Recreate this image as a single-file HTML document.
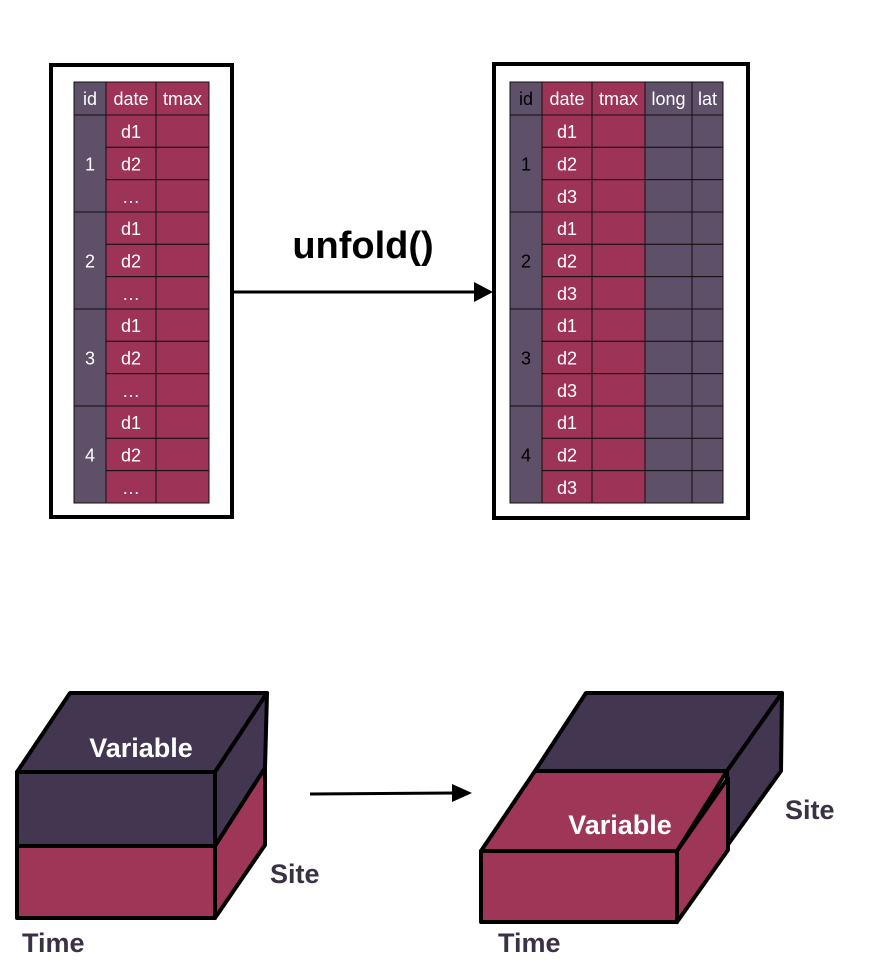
<!DOCTYPE html>
<html><head><meta charset="utf-8"><style>
body{margin:0;width:872px;height:969px;background:#fff;overflow:hidden;font-family:"Liberation Sans",sans-serif}
svg{position:absolute;left:0;top:0}
</style></head><body>
<svg width="872" height="969" viewBox="0 0 872 969">
<g id="tables"></g>
<g>
<line x1="232" y1="292" x2="476" y2="292" stroke="#000" stroke-width="3"/>
<polygon points="474,282 493,292 474,302" fill="#000"/>
</g>
<text x="363" y="258" text-anchor="middle" font-size="38" font-weight="bold">unfold()</text>

<g stroke="#000" stroke-width="4" stroke-linejoin="round">
<polygon points="17,772 70,693 267,693 215,772" fill="#433650"/>
<polygon points="215,772 267,693 265,768 215,846" fill="#433650"/>
<rect x="17" y="772" width="198" height="74" fill="#433650"/>
<polygon points="215,846 265,768 265,845 215,918" fill="#9e3658"/>
<rect x="17" y="846" width="198" height="72" fill="#9e3658"/>
</g>
<text x="141" y="757" text-anchor="middle" font-size="27" font-weight="bold" fill="#fff">Variable</text>
<text x="270" y="883" font-size="27" font-weight="bold" fill="#3a3145">Site</text>
<text x="22" y="952" font-size="27" font-weight="bold" fill="#3a3145">Time</text>

<g>
<line x1="310" y1="794" x2="455" y2="793" stroke="#000" stroke-width="3"/>
<polygon points="452,784 472,793 452,802" fill="#000"/>
</g>

<g stroke="#000" stroke-width="4" stroke-linejoin="round">
<polygon points="535,771 586,693 782,693 727,771" fill="#433650"/>
<polygon points="727,771 782,693 781,771 727,846" fill="#433650"/>
<polygon points="481,851 535,771 727,771 677,851" fill="#9e3658"/>
<polygon points="677,851 728,778 728,850 677,922" fill="#9e3658"/>
<rect x="481" y="851" width="196" height="71" fill="#9e3658"/>
</g>
<text x="620" y="834" text-anchor="middle" font-size="27" font-weight="bold" fill="#fff">Variable</text>
<text x="785" y="819" font-size="27" font-weight="bold" fill="#3a3145">Site</text>
<text x="498" y="952" font-size="27" font-weight="bold" fill="#3a3145">Time</text>
</svg>
<script>
const M='#9e3358', P='#5d5068';
const leftCols=['id','date','tmax'];
const leftDates=['d1','d2','…'];
const rightCols=['id','date','tmax','long','lat'];
const rightDates=['d1','d2','d3'];
const ids=['1','2','3','4'];
const g=document.getElementById('tables');
const NS='http://www.w3.org/2000/svg';
function el(t,a,p){const e=document.createElementNS(NS,t);for(const k in a)e.setAttribute(k,a[k]);(p||g).appendChild(e);return e;}
function table(name,fx,fy,fw,fh,xs,cols,colColors,dates,idColor,hdrColors){
  const grp=el('g',{});
  
  
  el('rect',{x:fx,y:fy,width:fw,height:fh,fill:'#fff',stroke:'#000','stroke-width':4},grp);
  const y0=82,hh=33,rows=ids.length*dates.length,rh=(503-115)/rows;
  for(let c=0;c<cols.length;c++){
    el('rect',{x:xs[c],y:y0,width:xs[c+1]-xs[c],height:hh,fill:colColors[c],stroke:'#111','stroke-width':1},grp);
    const t=el('text',{x:(xs[c]+xs[c+1])/2,y:y0+23,'text-anchor':'middle','font-size':18,fill:hdrColors[c]},grp);
    t.textContent=cols[c];
    
    
  }
  ids.forEach((id,i)=>{
    const yb=115+i*dates.length*rh;
    el('rect',{x:xs[0],y:yb,width:xs[1]-xs[0],height:dates.length*rh,fill:P,stroke:'#111','stroke-width':1},grp);
    const t=el('text',{x:(xs[0]+xs[1])/2,y:yb+dates.length*rh/2+7,'text-anchor':'middle','font-size':18,fill:idColor},grp);
    t.textContent=id;
    
    
    dates.forEach((d,j)=>{
      const y=yb+j*rh;
      for(let c=1;c<cols.length;c++) el('rect',{x:xs[c],y:y,width:xs[c+1]-xs[c],height:rh,fill:colColors[c],stroke:'#111','stroke-width':1},grp);
      const tt=el('text',{x:(xs[1]+xs[2])/2,y:y+rh/2+7,'text-anchor':'middle','font-size':18,fill:'#fff'},grp);
      tt.textContent=d;
      
      
    });
  });
}
table('wide-table',51,65,181,452,[74,106,156,209],leftCols,[P,M,M],leftDates,'#fff',['#fff','#fff','#fff']);
table('long-table',494,64,254,454,[510,542,592,645,692,723],rightCols,[P,M,M,P,P],rightDates,'#000',['#000','#fff','#fff','#fff','#fff']);
</script>
</body></html>
